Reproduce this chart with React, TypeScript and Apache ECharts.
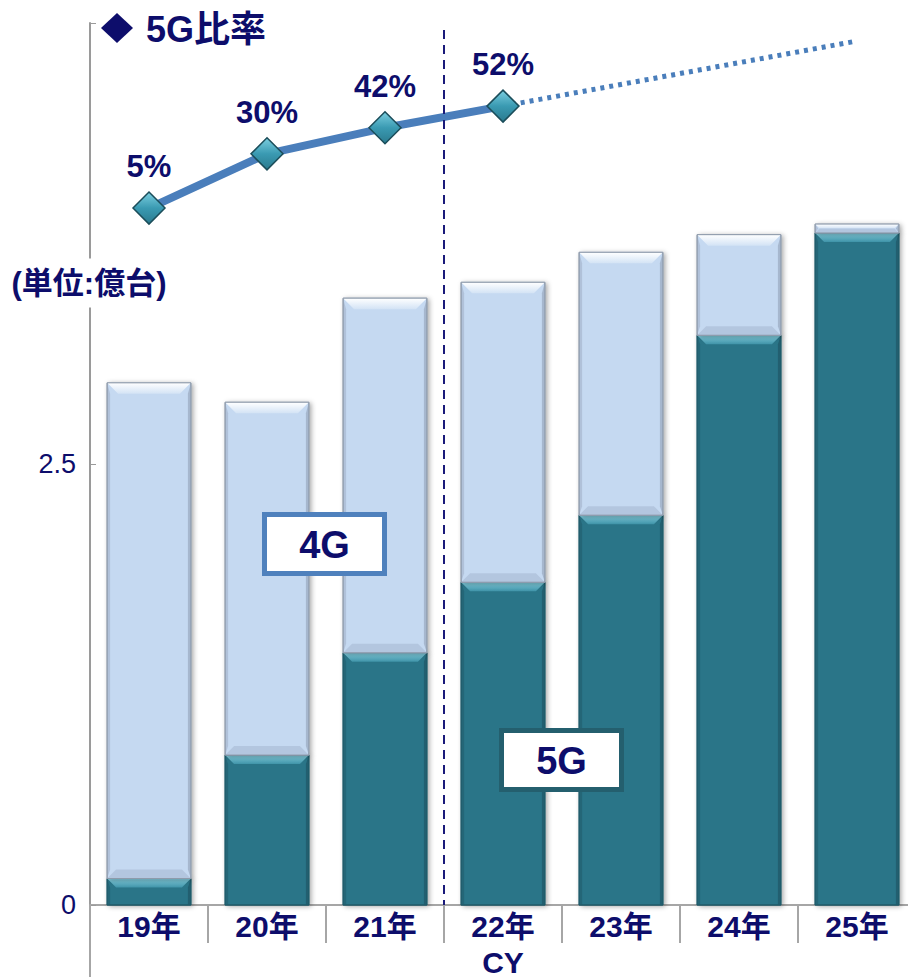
import React, { useEffect, useRef } from 'react';
import * as echarts from 'echarts';

const categories = ['19年', '20年', '21年', '22年', '23年', '24年', '25年'];
const units5G = [0.15, 0.85, 1.43, 1.83, 2.21, 3.23, 3.81];
const units4G = [2.81, 2.0, 2.01, 1.7, 1.49, 0.57, 0.05];
const ratioActual = [5, 30, 42, 52, null, null, null];
const ratioOutlook = [null, null, null, 52, null, null, 82];
const yAxisMax = 5;
const yAxisStep = 2.5;

const FONT = '"Liberation Sans", Arial, "Noto Sans CJK JP", sans-serif';
const NAVY = '#0d0d6b';

const pal5G = {
  main: '#2c7488',
  stroke: '#1f5a69',
  topA: '#86d0e0',
  topB: '#3f93a8',
  side: '#225f70',
  bottom: '#2a6f82',
  bevel: 9,
  bottomBevel: 0,
};
const pal4G = {
  main: '#c5d9f1',
  stroke: '#8e9aab',
  topA: '#ffffff',
  topB: '#d3e3f5',
  side: '#a6b7ce',
  bottom: '#b3c6df',
  bevel: 11,
  bottomBevel: 9,
};

function makeRender(pal: any) {
  return (params: any, api: any) => {
    const cat = api.value(0);
    const lo = api.value(1);
    const hi = api.value(2);
    const pHi = api.coord([cat, hi]);
    const pLo = api.coord([cat, lo]);
    const w = api.size([1, 0])[0] * 0.71;
    const x0 = pHi[0] - w / 2;
    const x1 = pHi[0] + w / 2;
    const y0 = pHi[1];
    const y1 = pLo[1];
    const h = y1 - y0;
    const b = Math.min(pal.bevel, h / 2);
    const bb = Math.min(pal.bottomBevel, h / 2);
    const s = 3;
    const children: any[] = [
      {
        type: 'rect',
        shape: { x: x0, y: y0, width: w, height: h },
        style: {
          fill: pal.main,
          stroke: pal.stroke,
          lineWidth: 1,
          shadowBlur: 5,
          shadowColor: 'rgba(0,0,0,0.35)',
          shadowOffsetX: 2,
          shadowOffsetY: 1,
        },
      },
      {
        type: 'polygon',
        shape: { points: [[x0, y1], [x0 + s, y1 - bb], [x0 + s, y0 + b], [x0, y0]] },
        style: { fill: pal.side, opacity: 0.7 },
      },
      {
        type: 'polygon',
        shape: { points: [[x1, y1], [x1 - s, y1 - bb], [x1 - s, y0 + b], [x1, y0]] },
        style: { fill: pal.side },
      },
      {
        type: 'polygon',
        shape: { points: [[x0, y0], [x1, y0], [x1 - b, y0 + b], [x0 + b, y0 + b]] },
        style: {
          fill: new echarts.graphic.LinearGradient(0, 0, 0, 1, [
            { offset: 0, color: pal.topA },
            { offset: 1, color: pal.topB },
          ]),
        },
      },
    ];
    if (bb > 0) {
      children.push({
        type: 'polygon',
        shape: { points: [[x0, y1], [x1, y1], [x1 - bb, y1 - bb], [x0 + bb, y1 - bb]] },
        style: { fill: pal.bottom },
      });
    }
    children.push({
      type: 'rect',
      shape: { x: x0, y: y0, width: w, height: h },
      style: { fill: 'none', stroke: pal.stroke, lineWidth: 1 },
    });
    return { type: 'group', children };
  };
}

export default function App() {
  const ref = useRef<HTMLDivElement>(null);
  useEffect(() => {
    if (!ref.current) return;
    const chart = echarts.init(ref.current, null, { renderer: 'svg' });
    const data5G = units5G.map((v, i) => [i, 0, v]);
    const data4G = units4G.map((v, i) => [i, units5G[i], units5G[i] + v]);

    const option: any = {
      animation: false,
      backgroundColor: '#ffffff',
      grid: { left: 90, right: 0, top: 23, bottom: 72, outerBoundsMode: 'none', containLabel: false },
      xAxis: {
        type: 'category',
        data: categories,
        boundaryGap: true,
        axisLine: { lineStyle: { color: '#a6a6a6', width: 2 } },
        axisTick: { show: true, interval: 0, length: 38, lineStyle: { color: '#a6a6a6', width: 2 } },
        axisLabel: {
          color: NAVY,
          fontFamily: FONT,
          fontWeight: 'bold',
          fontSize: 30,
          margin: 6,
        },
        name: 'CY',
        nameLocation: 'middle',
        nameGap: 42,
        nameTextStyle: { color: NAVY, fontFamily: FONT, fontWeight: 'bold', fontSize: 30 },
      },
      yAxis: [
        {
          type: 'value',
          min: 0,
          max: yAxisMax,
          interval: yAxisStep,
          axisLine: { show: true, lineStyle: { color: '#9a9a9a', width: 2 } },
          axisTick: { show: true, inside: true, length: 6, lineStyle: { color: '#9a9a9a', width: 1 } },
          splitLine: { show: false },
          axisLabel: {
            color: NAVY,
            fontFamily: FONT,
            fontSize: 27,
            margin: 14,
            formatter: (v: number) => (v === yAxisMax ? '' : String(v)),
          },
        },
        {
          type: 'value',
          min: -316.2,
          max: 90.3,
          show: false,
        },
      ],
      series: [
        {
          type: 'custom',
          name: '5G',
          coordinateSystem: 'cartesian2d',
          xAxisIndex: 0,
          yAxisIndex: 0,
          renderItem: makeRender(pal5G),
          encode: { x: 0, y: [1, 2] },
          data: data5G,
          z: 2,
        },
        {
          type: 'custom',
          name: '4G',
          coordinateSystem: 'cartesian2d',
          xAxisIndex: 0,
          yAxisIndex: 0,
          renderItem: makeRender(pal4G),
          encode: { x: 0, y: [1, 2] },
          data: data4G,
          z: 2,
        },
        {
          type: 'line',
          name: '5G比率見通し',
          yAxisIndex: 1,
          data: ratioOutlook,
          connectNulls: true,
          symbol: 'none',
          lineStyle: { color: '#4a7ebb', width: 5, type: [4, 5] },
          z: 5,
        },
        {
          type: 'line',
          name: '5G比率',
          yAxisIndex: 1,
          data: ratioActual,
          symbol: 'diamond',
          symbolSize: [32, 32],
          lineStyle: { color: '#4a7ebb', width: 8 },
          itemStyle: {
            color: new echarts.graphic.LinearGradient(0, 0, 0, 1, [
              { offset: 0, color: '#7ccfe0' },
              { offset: 0.5, color: '#3a9ab2' },
              { offset: 1, color: '#2a7a8e' },
            ]),
            borderColor: '#1b4d5a',
            borderWidth: 1.5,
          },
          label: {
            show: true,
            position: 'top',
            distance: 9,
            formatter: '{c}%',
            color: NAVY,
            fontFamily: FONT,
            fontWeight: 'bold',
            fontSize: 31,
          },
          z: 6,
        },
      ],
      graphic: [
        {
          id: 'titleDiamond',
          type: 'polygon',
          z: 100,
          shape: { points: [[117, 13], [133, 28], [117, 43], [101, 28]] },
          style: { fill: NAVY },
        },
        {
          id: 'titleText',
          type: 'text',
          z: 100,
          x: 146,
          y: 29,
          style: {
            text: '5G比率',
            fill: NAVY,
            font: `bold 36px ${FONT}`,
            verticalAlign: 'middle',
            align: 'left',
          },
        },
        {
          id: 'unitText',
          type: 'text',
          z: 100,
          x: 89,
          y: 283,
          style: {
            text: '(単位:億台)',
            fill: NAVY,
            font: `bold 31px ${FONT}`,
            align: 'center',
            verticalAlign: 'middle',
            backgroundColor: '#ffffff',
            padding: [9, 2, 9, 2],
          },
        },
        {
          id: 'box4GRect',
          type: 'rect',
          z: 100,
          shape: { x: 264.5, y: 514.5, width: 120, height: 59 },
          style: { fill: '#ffffff', stroke: '#4f81bd', lineWidth: 5 },
        },
        {
          id: 'box4GText',
          type: 'text',
          z: 101,
          x: 324.5,
          y: 545,
          style: { text: '4G', fill: NAVY, font: `bold 38px ${FONT}`, align: 'center', verticalAlign: 'middle' },
        },
        {
          id: 'box5GRect',
          type: 'rect',
          z: 100,
          shape: { x: 501.5, y: 730.5, width: 120, height: 59 },
          style: { fill: '#ffffff', stroke: '#245f6e', lineWidth: 5 },
        },
        {
          id: 'box5GText',
          type: 'text',
          z: 101,
          x: 561.5,
          y: 761,
          style: { text: '5G', fill: NAVY, font: `bold 38px ${FONT}`, align: 'center', verticalAlign: 'middle' },
        },
      ],
    };
    chart.setOption(option);

    const finder = { xAxisIndex: 0, yAxisIndex: 0 };
    const p21 = chart.convertToPixel(finder, [2, 0]) as number[];
    const p22 = chart.convertToPixel(finder, [3, 0]) as number[];
    const pTop = chart.convertToPixel(finder, [0, yAxisMax]) as number[];
    const pOrigin = chart.convertToPixel(finder, [0, 0]) as number[];
    const splitX = Math.round((p21[0] + p22[0]) / 2);
    const cw = p22[0] - p21[0];
    const axisX = p21[0] - 2.5 * cw;
    chart.setOption({
      graphic: [
        {
          id: 'forecastSplit',
          type: 'line',
          z: 100,
          shape: { x1: splitX, y1: pTop[1] + 7, x2: splitX, y2: pOrigin[1] },
          style: { stroke: '#1a1a7a', lineWidth: 2, lineDash: [9, 6] },
        },
        {
          id: 'axisExt',
          type: 'line',
          z: 100,
          shape: { x1: axisX, y1: pOrigin[1], x2: axisX, y2: 977 },
          style: { stroke: '#a6a6a6', lineWidth: 2 },
        },
      ],
    });

    return () => chart.dispose();
  }, []);
  return (
    <div style={{ position: 'absolute', left: 0, top: 0, width: 908, height: 977, overflow: 'hidden' }}>
      <div ref={ref} style={{ width: 916, height: 977 }} />
    </div>
  );
}
